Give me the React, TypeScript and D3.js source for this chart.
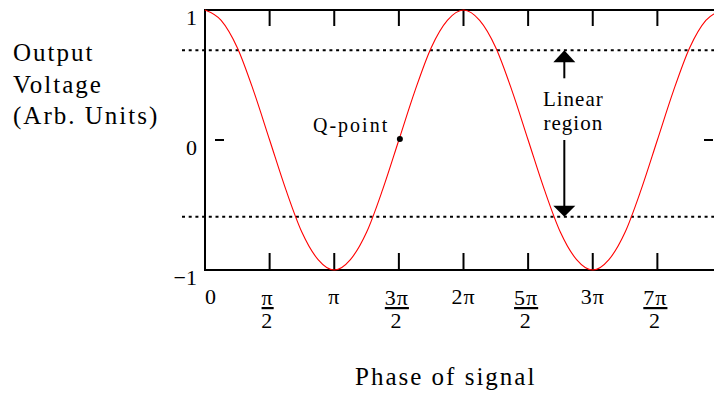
import React from 'react';
import * as d3 from 'd3';

// phase in units of pi/8
const phaseSteps = d3.range(0, 33);
const voltage = [
  1, 0.92, 0.71, 0.38, 0, -0.38, -0.71, -0.92,
  -1, -0.92, -0.71, -0.38, 0, 0.38, 0.71, 0.92,
  1, 0.92, 0.71, 0.38, 0, -0.38, -0.71, -0.92,
  -1, -0.92, -0.71, -0.38, 0, 0.38, 0.71, 0.92, 1,
];

// x ticks at multiples of pi/2
const xTickHalfPis = [0, 1, 2, 3, 4, 5, 6, 7, 8];
const xTickNum = ['0', 'π', 'π', '3π', '2π', '5π', '3π', '7π', ''];
const xTickDen = ['', '2', '', '2', '', '2', '', '2', ''];

const yTicks = [-1, 0, 1];
const yTickLabels = ['−1', '0', '1'];

// linear region bounds
const linearTop = 0.69;
const linearBottom = -0.59;
const linearArrowPhase = 2.78; // in units of pi
const qPoint = { phase: 1.5, value: 0 };

const yLabelLines = ['Output', 'Voltage', '(Arb. Units)'];

const W = 714;
const H = 394;
const serif = '"Liberation Serif", "Times New Roman", serif';

export default function App() {
  const x = d3.scaleLinear().domain([0, 4 * Math.PI]).range([205, 722]);
  const y = d3.scaleLinear().domain([-1, 1]).range([270, 10]);

  const line = d3
    .line<number>()
    .x((d, i) => x((phaseSteps[i] * Math.PI) / 8))
    .y(d => y(d))
    .curve(d3.curveMonotoneX);

  const x0 = x.range()[0];
  const x1 = x.range()[1];
  const yT = y(1);
  const yB = y(-1);
  const ax = x(linearArrowPhase * Math.PI);
  const upTip = y(linearTop);
  const downTip = y(linearBottom);

  return (
    <svg
      width={W}
      height={H}
      style={{ position: 'absolute', left: 0, top: 0, background: '#fff' }}
      fontFamily={serif}
    >
      {/* dotted linear-region limits */}
      {[linearTop, linearBottom].map(v => (
        <line
          key={v}
          x1={182}
          x2={W}
          y1={y(v)}
          y2={y(v)}
          stroke="#000"
          strokeWidth={2}
          strokeDasharray="3,3.7"
        />
      ))}

      {/* frame */}
      <g stroke="#000" strokeWidth={2}>
        <line x1={x0} x2={x0} y1={yT - 1} y2={yB + 1} />
        <line x1={x0} x2={x1} y1={yT} y2={yT} />
        <line x1={x0} x2={x1} y1={yB} y2={yB} />
        <line x1={x1} x2={x1} y1={yT} y2={yB} />
        {xTickHalfPis.map(t => (
          <g key={t}>
            <line x1={x((t * Math.PI) / 2)} x2={x((t * Math.PI) / 2)} y1={yT} y2={yT + 16} />
            <line x1={x((t * Math.PI) / 2)} x2={x((t * Math.PI) / 2)} y1={yB} y2={yB - 17} />
          </g>
        ))}
        {yTicks.map(v => (
          <g key={v}>
            <line x1={x0 + 10} x2={x0 + 19} y1={y(v)} y2={y(v)} />
            <line x1={x1 - 18} x2={x1 - 9} y1={y(v)} y2={y(v)} />
          </g>
        ))}
      </g>

      {/* y tick labels */}
      {yTicks.map((v, i) => (
        <text key={v} x={197} y={y(v) + 14.5} fontSize={22} textAnchor="end">
          {yTickLabels[i]}
        </text>
      ))}

      {/* x tick labels */}
      {xTickHalfPis.map((t, i) => {
        const cx = x((t * Math.PI) / 2);
        if (!xTickNum[i]) return null;
        if (!xTickDen[i]) {
          return (
            <text
              key={t}
              x={t === 0 ? cx : cx}
              y={304}
              fontSize={22}
              letterSpacing={1}
              textAnchor={t === 0 ? 'start' : 'middle'}
            >
              {xTickNum[i]}
            </text>
          );
        }
        return (
          <g key={t}>
            <text
              x={cx - 2}
              y={305}
              fontSize={22}
              letterSpacing={1}
              textAnchor="middle"
              textDecoration="underline"
            >
              {xTickNum[i]}
            </text>
            <text x={cx - 3} y={328} fontSize={22} textAnchor="middle">
              {xTickDen[i]}
            </text>
          </g>
        );
      })}

      {/* signal */}
      <path d={line(voltage) ?? ''} fill="none" stroke="#ff0000" strokeWidth={1.1} />

      {/* Q-point */}
      <circle cx={x(qPoint.phase * Math.PI) + 1} cy={y(qPoint.value) - 1} r={3} fill="#000" />
      <text x={313} y={132} fontSize={20} letterSpacing={2}>
        Q-point
      </text>

      {/* linear region arrows */}
      <g fill="#000" stroke="#000">
        <line x1={ax} x2={ax} y1={upTip + 10} y2={upTip + 28} strokeWidth={2} />
        <polygon points={`${ax},${upTip} ${ax - 11},${upTip + 12} ${ax + 11},${upTip + 12}`} strokeWidth={0} />
        <line x1={ax} x2={ax} y1={y(0)} y2={downTip - 9} strokeWidth={2} />
        <polygon points={`${ax},${downTip} ${ax - 11},${downTip - 11} ${ax + 11},${downTip - 11}`} strokeWidth={0} />
      </g>
      <text x={ax + 9} y={106} fontSize={21} letterSpacing={1} textAnchor="middle">
        Linear
      </text>
      <text x={ax + 9} y={130} fontSize={21} letterSpacing={1} textAnchor="middle">
        region
      </text>

      {/* axis titles */}
      {yLabelLines.map((s, i) => (
        <text key={s} x={13} y={61 + i * 31.5} fontSize={25} letterSpacing={2}>
          {s}
        </text>
      ))}
      <text x={355} y={385} fontSize={25} letterSpacing={2}>
        Phase of signal
      </text>
    </svg>
  );
}
